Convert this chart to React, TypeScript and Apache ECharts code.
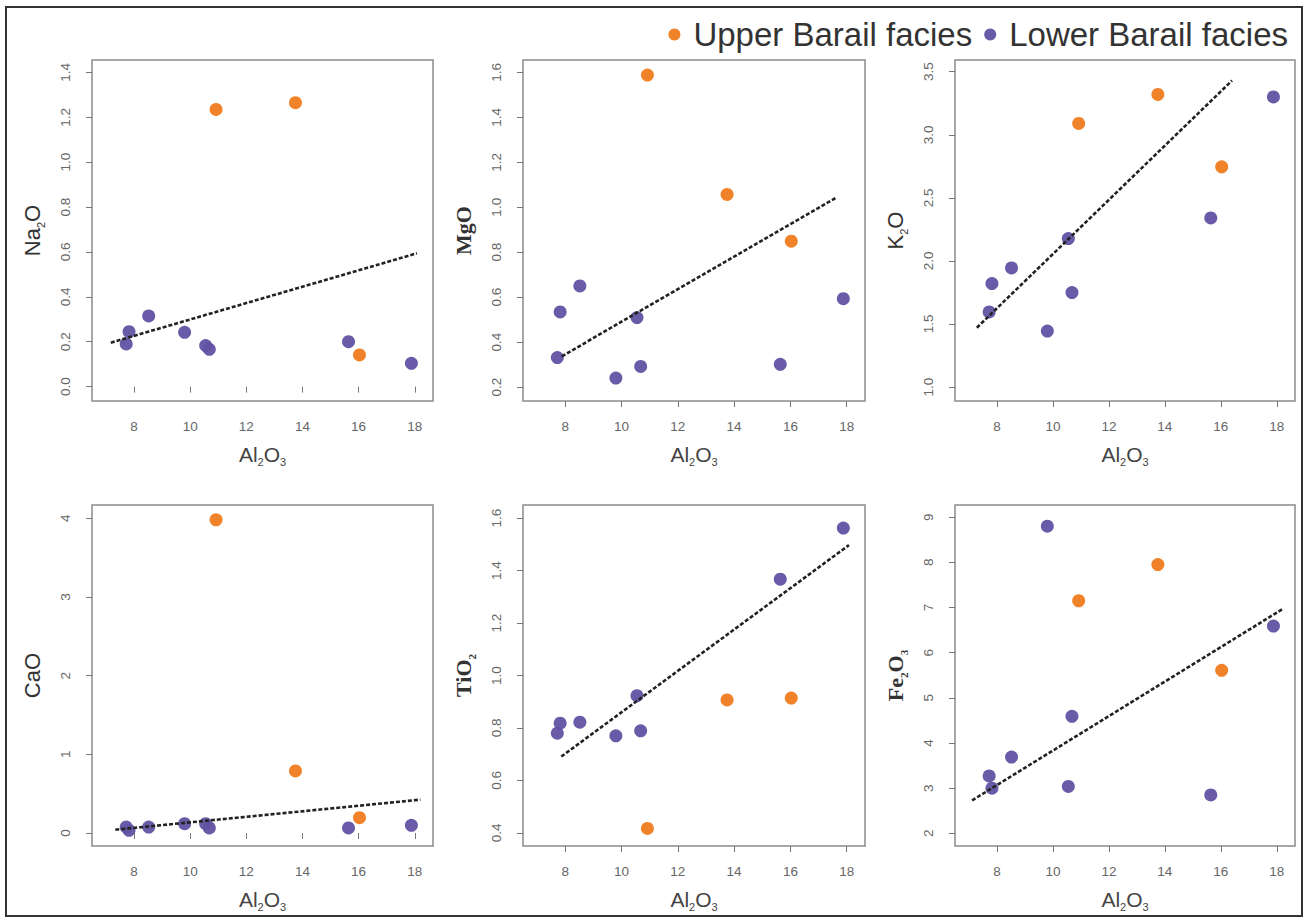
import React, { useEffect, useRef } from "react";
import * as echarts from "echarts";

// Al2O3 values (x) shared by all panels
const al2o3Lower = [7.72, 7.82, 8.52, 9.8, 10.55, 10.68, 15.64, 17.88];
const al2o3Upper = [10.92, 13.75, 16.03];

// Oxide values per panel
const na2oLower = [0.19, 0.245, 0.315, 0.242, 0.183, 0.166, 0.2, 0.104];
const na2oUpper = [1.235, 1.265, 0.141];
const mgoLower = [0.331, 0.534, 0.65, 0.24, 0.509, 0.292, 0.301, 0.593];
const mgoUpper = [1.588, 1.057, 0.849];
const k2oLower = [1.595, 1.82, 1.944, 1.444, 2.177, 1.749, 2.341, 3.3];
const k2oUpper = [3.09, 3.32, 2.746];
const caoLower = [0.076, 0.034, 0.076, 0.119, 0.119, 0.064, 0.064, 0.098];
const caoUpper = [3.98, 0.789, 0.195];
const tio2Lower = [0.78, 0.818, 0.822, 0.77, 0.923, 0.789, 1.367, 1.562];
const tio2Upper = [0.417, 0.907, 0.914];
const fe2o3Lower = [3.27, 3.0, 3.69, 8.8, 3.04, 4.59, 2.85, 6.59];
const fe2o3Upper = [7.15, 7.95, 5.61];

// Regression line end points [x0, y0, x1, y1]
const na2oFit = [7.17, 0.196, 18.08, 0.594];
const mgoFit = [7.88, 0.337, 17.63, 1.043];
const k2oFit = [7.28, 1.47, 16.4, 3.43];
const caoFit = [7.33, 0.042, 18.2, 0.424];
const tio2Fit = [7.86, 0.691, 18.08, 1.497];
const fe2o3Fit = [7.11, 2.73, 18.19, 6.96];

// Tick labels
const xTicks = [8, 10, 12, 14, 16, 18];
const na2oTicks = [0, 0.2, 0.4, 0.6, 0.8, 1.0, 1.2, 1.4];
const mgoTicks = [0.2, 0.4, 0.6, 0.8, 1.0, 1.2, 1.4, 1.6];
const k2oTicks = [1.0, 1.5, 2.0, 2.5, 3.0, 3.5];
const caoTicks = [0, 1, 2, 3, 4];
const tio2Ticks = [0.4, 0.6, 0.8, 1.0, 1.2, 1.4, 1.6];
const fe2o3Ticks = [2, 3, 4, 5, 6, 7, 8, 9];

const legendNames = ["Upper Barail facies", "Lower Barail facies"];

const ORANGE = "#EF7C1F";
const PURPLE = "#6152A3";

type Panel = {
  nameParts: [string, string][];
  serif: boolean;
  lower: number[];
  upper: number[];
  fit: number[];
  ticks: number[];
  dec: number;
  min: number;
  max: number;
  left: number;
  top: number;
  width: number;
};

const panels: Panel[] = [
  { nameParts: [["a", "Na"], ["s", "2"], ["a", "O"]], serif: false, lower: na2oLower, upper: na2oUpper, fit: na2oFit, ticks: na2oTicks, dec: 1, min: -0.064, max: 1.455, left: 92, top: 60, width: 341 },
  { nameParts: [["a", "MgO"]], serif: true, lower: mgoLower, upper: mgoUpper, fit: mgoFit, ticks: mgoTicks, dec: 1, min: 0.138, max: 1.655, left: 523, top: 60, width: 342 },
  { nameParts: [["a", "K"], ["s", "2"], ["a", "O"]], serif: false, lower: k2oLower, upper: k2oUpper, fit: k2oFit, ticks: k2oTicks, dec: 1, min: 0.889, max: 3.593, left: 955, top: 60, width: 340 },
  { nameParts: [["a", "CaO"]], serif: false, lower: caoLower, upper: caoUpper, fit: caoFit, ticks: caoTicks, dec: 0, min: -0.165, max: 4.169, left: 92, top: 505, width: 341 },
  { nameParts: [["a", "TiO"], ["s", "2"]], serif: true, lower: tio2Lower, upper: tio2Upper, fit: tio2Fit, ticks: tio2Ticks, dec: 1, min: 0.35, max: 1.65, left: 523, top: 505, width: 342 },
  { nameParts: [["a", "Fe"], ["s", "2"], ["a", "O"], ["s", "3"]], serif: true, lower: fe2o3Lower, upper: fe2o3Upper, fit: fe2o3Fit, ticks: fe2o3Ticks, dec: 0, min: 1.72, max: 9.27, left: 955, top: 505, width: 340 },
];

const SANS = "Liberation Sans, Arial, sans-serif";
const SERIF = "Liberation Serif, Times New Roman, serif";

export default function App() {
  const ref = useRef<HTMLDivElement>(null);

  useEffect(() => {
    document.body.style.margin = "0";
    if (!ref.current) return;
    const chart = echarts.init(ref.current, undefined, { renderer: "svg" });

    const grid: any[] = [];
    const xAxis: any[] = [];
    const yAxis: any[] = [];
    const series: any[] = [];

    panels.forEach((p, i) => {
      grid.push({
        left: p.left,
        top: p.top,
        width: p.width,
        height: 341,
        show: true,
        borderColor: "#8a8a8a",
        borderWidth: 1.5,
        backgroundColor: "transparent",
      });
      const fam = p.serif ? SERIF : SANS;
      const weight = p.serif ? "bold" : "normal";
      xAxis.push({
        type: "value",
        gridIndex: i,
        min: 6.5,
        max: 18.65,
        name: "{a|Al}{s|2}{a|O}{s|3}",
        nameLocation: "middle",
        nameGap: 40,
        nameTextStyle: {
          rich: {
            a: { fontSize: 21, fontFamily: SANS, color: "#444", lineHeight: 26 },
            s: { fontSize: 11, fontFamily: SANS, color: "#444", lineHeight: 11, verticalAlign: "bottom" },
          },
        },
        axisLine: { show: false },
        splitLine: { show: false },
        axisTick: { show: true, length: 6, customValues: xTicks, lineStyle: { color: "#777", width: 1 } },
        axisLabel: {
          customValues: xTicks,
          fontSize: 13.5,
          color: "#666",
          fontFamily: SANS,
          margin: 18,
        },
      });
      const rich: any = {
        a: { fontSize: 22, fontFamily: fam, fontWeight: weight, color: "#333", lineHeight: 27 },
        s: { fontSize: 11, fontFamily: fam, fontWeight: weight, color: "#333", lineHeight: 11, verticalAlign: "bottom" },
      };
      yAxis.push({
        type: "value",
        gridIndex: i,
        min: p.min,
        max: p.max,
        name: p.nameParts.map(([k, t]) => `{${k}|${t}}`).join(""),
        nameLocation: "middle",
        nameRotate: 90,
        nameGap: 46,
        nameTextStyle: { rich },
        axisLine: { show: false },
        splitLine: { show: false },
        axisTick: { show: true, length: 6, customValues: p.ticks, lineStyle: { color: "#777", width: 1 } },
        axisLabel: {
          customValues: p.ticks,
          rotate: 90,
          fontSize: 13.5,
          color: "#666",
          fontFamily: SANS,
          margin: 20,
          formatter: (v: number) => v.toFixed(p.dec),
        },
      });
      series.push({
        type: "line",
        xAxisIndex: i,
        yAxisIndex: i,
        data: [
          [p.fit[0], p.fit[1]],
          [p.fit[2], p.fit[3]],
        ],
        symbol: "none",
        silent: true,
        lineStyle: { color: "#222", width: 2.6, type: [4, 2] },
        z: 3,
      });
      series.push({
        type: "scatter",
        name: legendNames[1],
        xAxisIndex: i,
        yAxisIndex: i,
        data: p.lower.map((v, j) => [al2o3Lower[j], v]),
        symbolSize: 13,
        itemStyle: { color: PURPLE, opacity: 0.95 },
        z: 2,
      });
      series.push({
        type: "scatter",
        name: legendNames[0],
        xAxisIndex: i,
        yAxisIndex: i,
        data: p.upper.map((v, j) => [al2o3Upper[j], v]),
        symbolSize: 13,
        itemStyle: { color: ORANGE, opacity: 0.95 },
        z: 2,
      });
    });

    chart.setOption({
      animation: false,
      backgroundColor: "#ffffff",
      legend: {
        data: legendNames,
        right: 14,
        top: 13,
        icon: "circle",
        itemWidth: 12,
        itemHeight: 12,
        itemGap: 12,
        textStyle: { fontSize: 33, color: "#333", fontFamily: SANS, padding: [0, 0, 0, 8] },
      },
      grid,
      xAxis,
      yAxis,
      series,
      graphic: [
        {
          type: "rect",
          shape: { x: 6, y: 7, width: 1296, height: 909 },
          style: { fill: "none", stroke: "#333", lineWidth: 2 },
          silent: true,
          z: 100,
        },
      ],
    });

    return () => chart.dispose();
  }, []);

  return (
    <div
      ref={ref}
      style={{ position: "absolute", left: 0, top: 0, width: 1307, height: 920 }}
    />
  );
}
